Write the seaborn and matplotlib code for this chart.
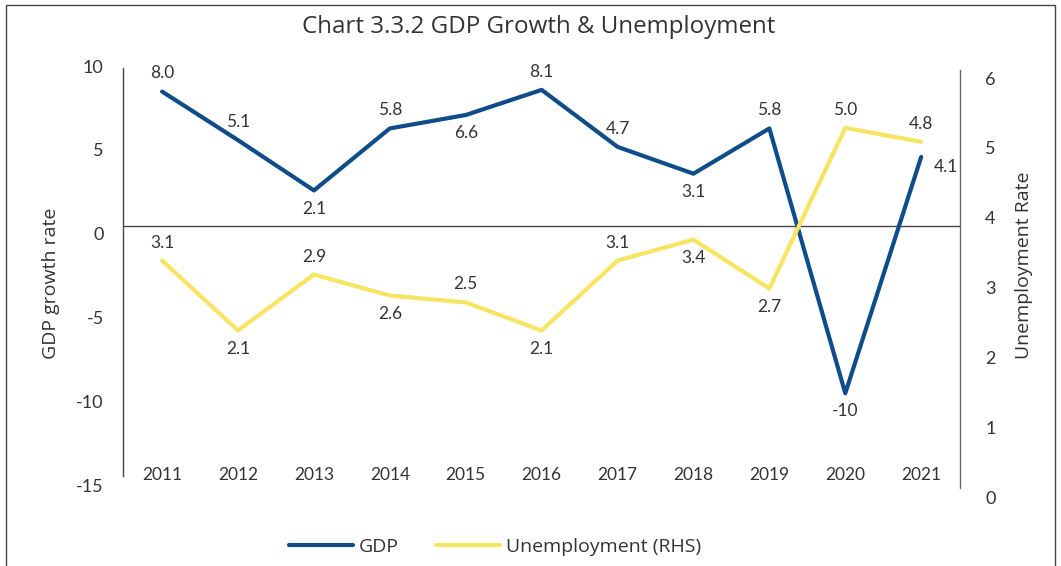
import pandas as pd
import matplotlib.pyplot as plt
import seaborn as sns
from matplotlib.patches import Rectangle
from matplotlib.transforms import ScaledTranslation

# data
years = ['2011', '2012', '2013', '2014', '2015', '2016', '2017', '2018', '2019', '2020', '2021']
gdp = [8.0, 5.1, 2.1, 5.8, 6.6, 8.1, 4.7, 3.1, 5.8, -10, 4.1]
unemp = [3.1, 2.1, 2.9, 2.6, 2.5, 2.1, 3.1, 3.4, 2.7, 5.0, 4.8]
gdp_labels = ['8.0', '5.1', '2.1', '5.8', '6.6', '8.1', '4.7', '3.1', '5.8', '-10', '4.1']
unemp_labels = ['3.1', '2.1', '2.9', '2.6', '2.5', '2.1', '3.1', '3.4', '2.7', '5.0', '4.8']
# label placement: up / down / right
gdp_pos = ['up', 'up', 'down', 'up', 'down', 'up', 'up', 'down', 'up', 'down', 'right']
unemp_pos = ['up', 'down', 'up', 'down', 'up', 'down', 'up', 'down', 'down', 'up', 'up']

df = pd.DataFrame({'idx': range(len(years)), 'year': years, 'GDP': gdp, 'Unemployment': unemp})

sns.set_style("white")
plt.rcParams['font.family'] = ['Lato', 'DejaVu Sans']
text_font = ['Open Sans', 'DejaVu Sans']
text_col = '#333333'
blue = '#0f4c88'
yellow = '#f6e462'

fig = plt.figure(figsize=(10.61, 5.66), dpi=100)
ax = fig.add_axes([0.116, 0.157, 0.789, 0.7405])
ax2 = ax.twinx()

sns.lineplot(data=df, x='idx', y='GDP', ax=ax, color=blue, linewidth=3, label='GDP', legend=False)
sns.lineplot(data=df, x='idx', y='Unemployment', ax=ax2, color=yellow, linewidth=3,
             label='Unemployment (RHS)', legend=False)

ax.set_xlim(-0.514, len(years) - 1 + 0.514)
ax.set_ylim(-15, 10)
ax2.set_ylim(0, 6)
ax.set_yticks([-15, -10, -5, 0, 5, 10])
ax.set_yticklabels(['-15', '-10', '-5', '0', '5', '10'])
ax2.set_yticks(range(0, 7))
ax.set_xticks(df['idx'])
ax.set_xticklabels(years)

ax.tick_params(axis='x', length=0, pad=-7.6, labelsize=12.5, labelcolor=text_col)
ax.tick_params(axis='y', length=0, pad=14, labelsize=13, labelcolor=text_col)
ax2.tick_params(axis='y', length=0, pad=18, labelsize=13, labelcolor=text_col)

# tick labels sit a little lower than the grid in the original
for lab in ax.get_yticklabels():
    lab.set_transform(lab.get_transform() + ScaledTranslation(0, -0.08, fig.dpi_scale_trans))
for lab in ax2.get_yticklabels():
    lab.set_transform(lab.get_transform() + ScaledTranslation(0, -0.20, fig.dpi_scale_trans))

ax.set_xlabel('')
ax.set_ylabel('GDP growth rate', fontsize=14, color=text_col, family=text_font)
ax2.set_ylabel('Unemployment Rate', fontsize=14, color=text_col, family=text_font)
ax.yaxis.set_label_coords(-0.075, 0.463)
ax2.yaxis.set_label_coords(1.066, 0.506)

for a in (ax, ax2):
    for s in ['top', 'bottom', 'left', 'right']:
        a.spines[s].set_visible(False)
ax.spines['left'].set_visible(True)
ax.spines['left'].set_color('#444444')
ax.spines['left'].set_linewidth(1)
ax.spines['left'].set_bounds(-14.95, 9.4)
ax2.spines['right'].set_visible(True)
ax2.spines['right'].set_color('#666666')
ax2.spines['right'].set_linewidth(1)
ax2.spines['right'].set_bounds(-0.16, 5.83)

ax.axhline(0, color='#444444', linewidth=1, zorder=1)

offsets = {'up': (0, 13), 'down': (0, -13), 'right': (9, -7)}
for a, vals, labs, pos in [(ax, gdp, gdp_labels, gdp_pos), (ax2, unemp, unemp_labels, unemp_pos)]:
    for i, (v, t, p) in enumerate(zip(vals, labs, pos)):
        a.annotate(t, (i, v), xytext=offsets[p], textcoords='offset points',
                   ha='left' if p == 'right' else 'center', va='center',
                   fontsize=12.5, color=text_col)

fig.text(0.5075, 0.952, 'Chart 3.3.2 GDP Growth & Unemployment', ha='center', va='center',
         fontsize=17.4, color=text_col, family=text_font)

h1, l1 = ax.get_legend_handles_labels()
h2, l2 = ax2.get_legend_handles_labels()
fig.legend(h1 + h2, l1 + l2, loc='center', bbox_to_anchor=(0.4665, 0.034), ncol=2,
           frameon=False, prop={'family': text_font, 'size': 14}, handlelength=3.3,
           columnspacing=1.9, handletextpad=0.3, labelcolor=text_col)

fig.patches.append(Rectangle((6 / 1061, -0.1), 1049 / 1061, 1.1 - 5 / 566, transform=fig.transFigure,
                             fill=False, edgecolor='#444444', linewidth=1))

fig.savefig('out.png', dpi=100)
